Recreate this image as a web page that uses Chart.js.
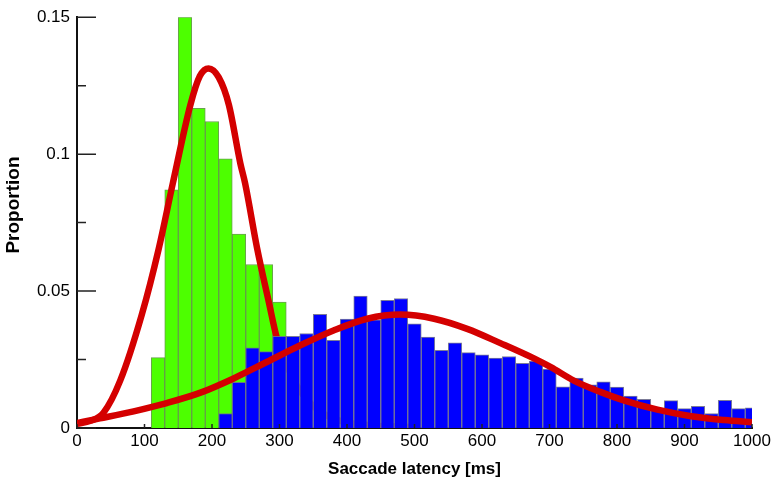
<!DOCTYPE html>
<html>
<head>
<meta charset="utf-8">
<script src="https://cdn.jsdelivr.net/npm/chart.js@4.4.1/dist/chart.umd.min.js"></script>
<style>
  html, body { margin: 0; padding: 0; background: #fff; }
  #wrap { width: 775px; height: 490px; }
</style>
</head>
<body>
<div id="wrap"><canvas id="latencyChart"></canvas></div>
<script>
// histogram bins (centre of each 20 ms bin) and proportions
const fastBins = [120, 140, 160, 180, 200, 220, 240, 260, 280, 300];
const fastProp = [0.0257, 0.087, 0.150, 0.1167, 0.1119, 0.0983, 0.0708, 0.0597, 0.0597, 0.046];

const slowBins = [220, 240, 260, 280, 300, 320, 340, 360, 380, 400,
                  420, 440, 460, 480, 500, 520, 540, 560, 580, 600,
                  620, 640, 660, 680, 700, 720, 740, 760, 780, 800,
                  820, 840, 860, 880, 900, 920, 940, 960, 980, 1000];
const slowProp = [0.0053, 0.0167, 0.0293, 0.0279, 0.0335, 0.0335, 0.0345, 0.0415, 0.032, 0.0398,
                  0.0482, 0.0395, 0.0466, 0.0473, 0.038, 0.0332, 0.0284, 0.0311, 0.0275, 0.0267,
                  0.0255, 0.0261, 0.0236, 0.0244, 0.0215, 0.015, 0.0182, 0.0158, 0.0169, 0.0149,
                  0.0117, 0.0105, 0.0065, 0.01, 0.0071, 0.0079, 0.0053, 0.0101, 0.0071, 0.0074];

// fitted curves
const fastFitX = [0, 20, 39, 64, 96, 121, 142, 168, 182, 195, 210, 225, 242, 249, 267, 284, 296, 320, 350, 400, 500];
const fastFitY = [0.0015, 0.0026, 0.0055, 0.0173, 0.0414, 0.0654, 0.0894, 0.118, 0.1285, 0.1313, 0.128, 0.118, 0.0966, 0.0894, 0.0654, 0.0462, 0.033, 0.018, 0.008, 0.002, 0.0003];

const slowFitX = [0, 34, 84, 133, 183, 232, 282, 331, 380, 430, 479, 529, 578, 628, 677, 702, 736, 776, 810, 860, 910, 959, 1000];
const slowFitY = [0.0018, 0.0035, 0.0061, 0.0091, 0.0129, 0.0181, 0.0242, 0.0302, 0.0356, 0.0399, 0.0414, 0.0399, 0.0362, 0.0309, 0.0254, 0.0222, 0.0173, 0.0131, 0.0101, 0.0067, 0.0043, 0.0029, 0.0021];

const xTicks = [0, 100, 200, 300, 400, 500, 600, 700, 800, 900, 1000];
const xTickLabels = ['0', '100', '200', '300', '400', '500', '600', '700', '800', '900', '1000'];
const yTicks = [0, 0.05, 0.1, 0.15];
const yTickLabels = ['0', '0.05', '0.1', '0.15'];
const yMinor = [0.025, 0.075, 0.125];
const yTitle = 'Proportion';

const toPoints = (xs, ys) => xs.map((x, i) => ({x: x, y: ys[i]}));

// tick marks point into the plot, drawn on top of the bars
const tickMarks = {
  id: 'tickMarks',
  afterDatasetsDraw(chart) {
    const {ctx, scales: {x, y}} = chart;
    ctx.save();
    ctx.strokeStyle = '#222';
    ctx.lineWidth = 1.5;
    ctx.beginPath();
    yTicks.forEach(v => {
      const py = y.getPixelForValue(v);
      ctx.moveTo(x.left, py); ctx.lineTo(x.left + 19, py);
    });
    yMinor.forEach(v => {
      const py = y.getPixelForValue(v);
      ctx.moveTo(x.left, py); ctx.lineTo(x.left + 9, py);
    });
    xTicks.forEach(v => {
      const px = x.getPixelForValue(v);
      ctx.moveTo(px, y.bottom); ctx.lineTo(px, y.bottom - 4);
    });
    ctx.stroke();
    ctx.restore();
  },
  afterDraw(chart) {
    // y title sits a bit above the middle of the axis in the original
    const {ctx} = chart;
    ctx.save();
    ctx.translate(14, 205);
    ctx.rotate(-Math.PI / 2);
    ctx.font = 'bold 19px "Liberation Sans"';
    ctx.fillStyle = '#000';
    ctx.textAlign = 'center';
    ctx.textBaseline = 'middle';
    ctx.fillText(yTitle, 0, 0);
    ctx.restore();
  }
};

const ctx = document.getElementById('latencyChart').getContext('2d');
const chart = new Chart(ctx, {
  type: 'bar',
  data: {
    datasets: [
      {
        type: 'line',
        label: 'Fit (slow)',
        data: toPoints(slowFitX, slowFitY),
        borderColor: '#d40000',
        borderWidth: 6.5,
        pointRadius: 0,
        cubicInterpolationMode: 'monotone',
        fill: false,
        order: 0
      },
      {
        label: 'Slow saccades',
        data: toPoints(slowBins, slowProp),
        backgroundColor: '#0000ff',
        borderColor: 'rgba(110,110,140,0.9)',
        borderWidth: 1,
        grouped: false,
        barPercentage: 1,
        categoryPercentage: 1,
        clip: 0,
        order: 1
      },
      {
        type: 'line',
        label: 'Fit (fast)',
        data: toPoints(fastFitX, fastFitY),
        borderColor: '#d40000',
        borderWidth: 6.5,
        pointRadius: 0,
        cubicInterpolationMode: 'monotone',
        fill: false,
        order: 2
      },
      {
        label: 'Fast saccades',
        data: toPoints(fastBins, fastProp),
        backgroundColor: '#4dff00',
        borderColor: 'rgba(90,150,60,0.9)',
        borderWidth: 1,
        grouped: false,
        barPercentage: 1,
        categoryPercentage: 1,
        clip: 0,
        order: 3
      }
    ]
  },
  options: {
    responsive: true,
    maintainAspectRatio: false,
    animation: false,
    layout: { padding: { top: 12, right: 23, left: 0, bottom: 0 } },
    plugins: { legend: { display: false }, tooltip: { enabled: false } },
    scales: {
      x: {
        type: 'linear',
        min: 0,
        max: 1000,
        offset: false,
        grid: { display: false, drawTicks: false },
        border: { display: true, color: '#111', width: 2 },
        afterBuildTicks: s => { s.ticks = xTicks.map(v => ({value: v})); },
        afterFit: s => { s.height = 62; },
        ticks: {
          callback: (v, i) => xTickLabels[i],
          color: '#000',
          padding: 3,
          maxRotation: 0,
          autoSkip: false,
          font: { family: 'Liberation Sans', size: 17 }
        },
        title: {
          display: true,
          text: 'Saccade latency [ms]',
          color: '#000',
          padding: { top: 0, bottom: 10 },
          font: { family: 'Liberation Sans', size: 17, weight: 'bold' }
        }
      },
      y: {
        min: 0,
        max: 0.15,
        grid: { display: false, drawTicks: false },
        border: { display: true, color: '#111', width: 2 },
        afterBuildTicks: s => { s.ticks = yTicks.map(v => ({value: v})); },
        afterFit: s => { s.width = 77; },
        ticks: {
          callback: (v, i) => yTickLabels[i],
          color: '#000',
          padding: 7,
          font: { family: 'Liberation Sans', size: 17 }
        },
        title: { display: false }
      }
    }
  },
  plugins: [tickMarks]
});
</script>
</body>
</html>
